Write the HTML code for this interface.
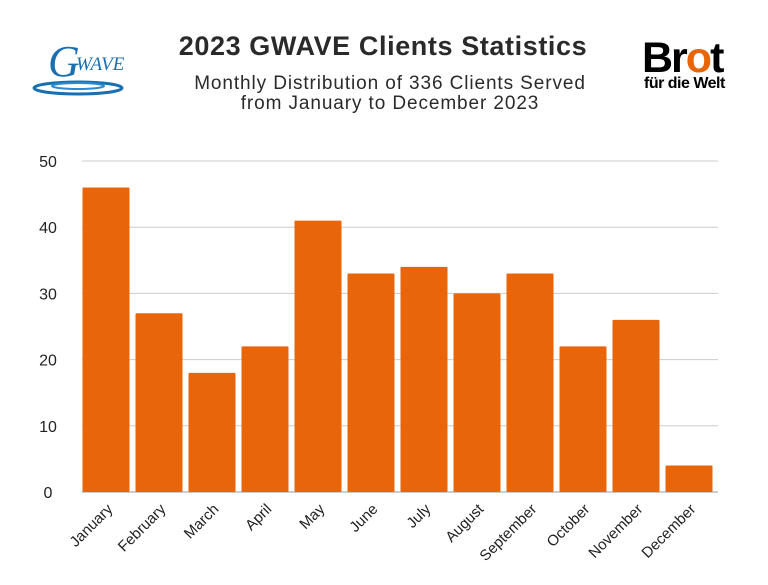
<!DOCTYPE html>
<html><head><meta charset="utf-8"><style>
body{margin:0;background:#fff;width:768px;height:580px;overflow:hidden;font-family:"Liberation Sans",sans-serif}
</style></head><body>
<svg width="768" height="580" xmlns="http://www.w3.org/2000/svg">
<g>
<ellipse cx="78" cy="88" rx="44" ry="6" fill="none" stroke="#1a6fb0" stroke-width="3"/>
<ellipse cx="78" cy="86" rx="26" ry="3" fill="none" stroke="#2c8ad0" stroke-width="2"/>
<text x="48" y="76" font-family="Liberation Serif,serif" font-size="44" font-style="italic" fill="#1a6fb0">G</text>
<text x="76" y="70" font-family="Liberation Serif,serif" font-size="19" font-style="italic" fill="#1a6fb0">WAVE</text>
</g>
<text x="383" y="55" text-anchor="middle" font-size="27" font-weight="bold" fill="#2a2a2a" letter-spacing="0.6">2023 GWAVE Clients Statistics</text>
<text x="390" y="89" text-anchor="middle" font-size="19" fill="#2a2a2a" letter-spacing="0.9">Monthly Distribution of 336 Clients Served</text>
<text x="390" y="109" text-anchor="middle" font-size="19" fill="#2a2a2a" letter-spacing="0.9">from January to December 2023</text>
<g>
<text x="642" y="72" font-size="43" font-weight="bold" fill="#000" letter-spacing="-2">Br<tspan fill="#e8650a">o</tspan>t</text>
<text x="644" y="88" font-size="16" font-weight="bold" fill="#000" letter-spacing="-0.5">für die Welt</text>
</g>
<g id="grid"></g><g id="bars"></g><g id="labels"></g>
</svg>
<script>
const months=["January","February","March","April","May","June","July","August","September","October","November","December"];
const clients=[46,27,18,22,41,33,34,30,33,22,26,4];
const yTicks=[0,10,20,30,40,50];
const NS="http://www.w3.org/2000/svg";
const x0=82,x1=718,y0=492,y1=161,yMax=50;
const slot=(x1-x0)/months.length;
function y(v){return y0-(v/yMax)*(y0-y1);}
function xb(i){return x0+i*slot;}
function mk(t,a,p){const e=document.createElementNS(NS,t);for(const k in a)e.setAttribute(k,a[k]);p.appendChild(e);return e;}
const g=document.getElementById('grid'),b=document.getElementById('bars'),l=document.getElementById('labels');
yTicks.forEach(t=>{
 const ln=mk('line',{x1:x0,x2:x1,y1:y(t),y2:y(t),stroke:t===0?'#999':'#ccc','stroke-width':1},g);
 
 
 const tx=mk('text',{x:48,y:y(t)+6,'text-anchor':'middle','font-size':16,fill:'#222'},g);
 tx.textContent=t;
 
 
});
months.forEach((m,i)=>{
 const r=mk('rect',{x:xb(i)+0.5,y:y(clients[i]),width:slot-6,height:y0-y(clients[i]),fill:'#e8650a',rx:1},b);
 
 
 const cx=xb(i)+(slot-6)/2+8,cy=510;
 const t=mk('text',{x:cx,y:cy,'text-anchor':'end','font-size':15,fill:'#222',transform:`rotate(-45 ${cx} ${cy})`},l);
 t.textContent=m;
 
 
});
</script>
</body></html>
